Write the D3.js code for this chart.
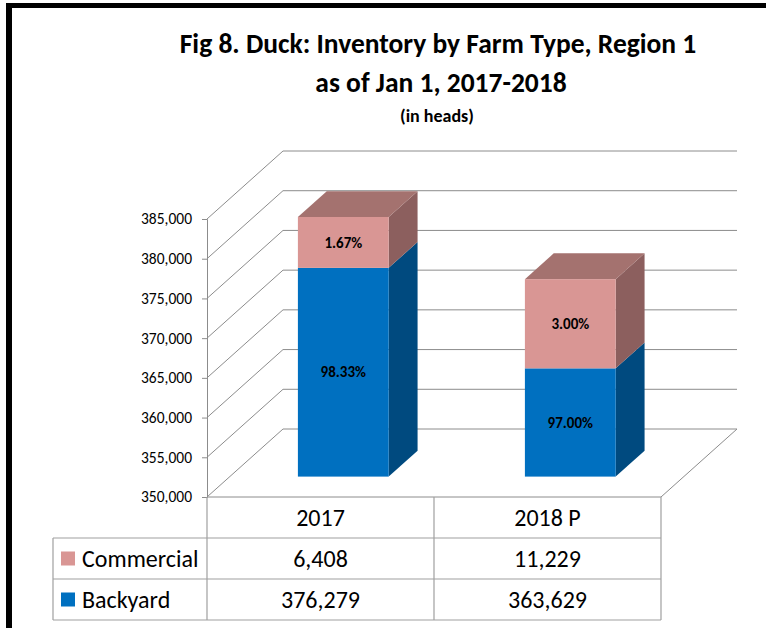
<!DOCTYPE html>
<meta charset="utf-8">
<style>
  body{ margin:0; background:#fff; }
  text{ font-family: Carlito, Calibri, Lato, sans-serif; fill:#000; }
  .title{ font-weight:bold; }
  .grid{ stroke:#8c8c8c; stroke-width:1; fill:none; }
  .cell{ stroke:#a0a0a0; stroke-width:1.2; fill:none; }
  .barlabel{ font-size:15px; font-weight:bold; }
  .tbl{ font-size:24px; }
</style>
<body>
<div id="container"></div>
<script src="https://cdnjs.cloudflare.com/ajax/libs/d3/7.8.5/d3.min.js"></script>
<script>

var years = ['2017', '2018 P'];
var series = ['Backyard', 'Commercial'];
var backyard = [376279, 363629];
var commercial = [6408, 11229];
var backyardPct = ['98.33%', '97.00%'];
var commercialPct = ['1.67%', '3.00%'];
var yTicks = [350000, 355000, 360000, 365000, 370000, 375000, 380000, 385000];

var colors = {
  Backyard:   {front:'#0070c0', side:'#004a7f', top:'#005a9a'},
  Commercial: {front:'#d99694', side:'#8c5f5e', top:'#a4726f'}
};

var W = 766, H = 628;
var svg = d3.select('#container').append('svg').attr('width', W).attr('height', H);

// frame
svg.append('rect').attr('x',6).attr('y',3).attr('width',W).attr('height',5).attr('fill','#000');
svg.append('rect').attr('x',6).attr('y',3).attr('width',6).attr('height',H).attr('fill','#000');

// title
svg.append('text').attr('class','title').attr('x',438).attr('y',53).attr('text-anchor','middle')
  .style('font-size','27.5px').text('Fig 8. Duck: Inventory by Farm Type, Region 1');
svg.append('text').attr('class','title').attr('x',441).attr('y',92).attr('text-anchor','middle')
  .style('font-size','27.5px').text('as of Jan 1, 2017-2018');
svg.append('text').attr('class','title').attr('x',437).attr('y',122).attr('text-anchor','middle')
  .style('font-size','18px').text('(in heads)');

// scales (front plane)
var x = d3.scaleBand().domain(years).range([207, 661]).padding(0);
var y = d3.scaleLinear().domain([350000, 385000]).range([497, 219]);
var depth = {dx:76, dy:-68};
var f1 = 0.3, f2 = 0.68;      // bar depth position (fraction of wall depth)
var barW = x.bandwidth() * 0.4;

// walls / gridlines
var g = svg.append('g');
yTicks.forEach(function(t){
  var y0 = y(t);
  g.append('path').attr('class','grid')
    .attr('d', 'M' + x.range()[0] + ',' + y0 + 'l' + depth.dx + ',' + depth.dy + 'H' + (x.range()[1] + depth.dx));
});
// floor
g.append('path').attr('class','grid')
  .attr('d', 'M' + x.range()[0] + ',' + y(350000) + 'H' + x.range()[1] + 'l' + depth.dx + ',' + depth.dy);

// y axis
var axis = svg.append('g')
  .attr('transform','translate(' + x.range()[0] + ',0)')
  .call(d3.axisLeft(y).tickValues(yTicks).tickSize(5).tickPadding(10).tickFormat(d3.format(',')));
axis.select('.domain').attr('stroke','#8c8c8c');
axis.selectAll('.tick line').attr('stroke','#8c8c8c');
axis.selectAll('.tick text').style('font-size','15.5px').style('font-family','Carlito, Calibri, Lato, sans-serif').attr('fill','#222');

// bars
var stacks = years.map(function(yr, i){
  return [
    {key:'Backyard', y0:350000, y1:backyard[i], label:backyardPct[i]},
    {key:'Commercial', y0:backyard[i], y1:backyard[i] + commercial[i], label:commercialPct[i]}
  ];
});

var bars = svg.append('g');
years.forEach(function(yr, i){
  var cx = x(yr) + x.bandwidth()/2 + depth.dx * f1;
  var x0 = cx - barW/2, x1 = cx + barW/2;
  var off = depth.dy * f1;
  var ddx = depth.dx * (f2 - f1), ddy = depth.dy * (f2 - f1);
  stacks[i].forEach(function(s, k){
    var yt = y(s.y1) + off, yb = y(s.y0) + off;
    var c = colors[s.key];
    // side
    bars.append('path').attr('fill', c.side)
      .attr('d', 'M' + x1 + ',' + yb + 'l' + ddx + ',' + ddy + 'V' + (yt + ddy) + 'l' + (-ddx) + ',' + (-ddy) + 'Z');
    // top
    if (k === stacks[i].length - 1) {
      bars.append('path').attr('fill', c.top)
        .attr('d', 'M' + x0 + ',' + yt + 'l' + ddx + ',' + ddy + 'H' + (x1 + ddx) + 'l' + (-ddx) + ',' + (-ddy) + 'Z');
    }
    // front
    bars.append('rect').attr('x', x0).attr('y', yt).attr('width', barW).attr('height', yb - yt).attr('fill', c.front);
    bars.append('text').attr('class','barlabel').attr('x', cx).attr('y', (yt + yb)/2).attr('dy','0.35em')
      .attr('text-anchor','middle').text(s.label);
  });
});

// data table
var tbl = svg.append('g');
var tLeft = 53, rowH = 41, tTop = 497;
var rows = [
  {name:'Commercial', vals:commercial, color:colors.Commercial.front},
  {name:'Backyard', vals:backyard, color:colors.Backyard.front}
];
tbl.append('path').attr('class','cell')
  .attr('d', 'M' + x.range()[0] + ',' + tTop + 'V' + (tTop + rowH * 3) +
             'M' + x(years[1]) + ',' + tTop + 'V' + (tTop + rowH * 3) +
             'M' + x.range()[1] + ',' + tTop + 'V' + (tTop + rowH * 3) +
             'M' + tLeft + ',' + (tTop + rowH) + 'H' + x.range()[1] +
             'M' + tLeft + ',' + (tTop + rowH * 2) + 'H' + x.range()[1] +
             'M' + tLeft + ',' + (tTop + rowH * 3) + 'H' + x.range()[1] +
             'M' + tLeft + ',' + (tTop + rowH) + 'V' + (tTop + rowH * 3));
years.forEach(function(yr){
  tbl.append('text').attr('class','tbl').attr('x', x(yr) + x.bandwidth()/2).attr('y', tTop + rowH/2)
    .attr('dy','0.35em').attr('text-anchor','middle').text(yr);
});
var fmt = d3.format(',');
rows.forEach(function(r, j){
  var cy = tTop + rowH * (j + 1) + rowH/2;
  tbl.append('rect').attr('x', 61).attr('y', cy - 7).attr('width', 14).attr('height', 14).attr('fill', r.color);
  tbl.append('text').attr('class','tbl').attr('x', 82).attr('y', cy).attr('dy','0.35em').text(r.name);
  years.forEach(function(yr, i){
    tbl.append('text').attr('class','tbl').attr('x', x(yr) + x.bandwidth()/2).attr('y', cy)
      .attr('dy','0.35em').attr('text-anchor','middle').text(fmt(r.vals[i]));
  });
});

</script>
</body>
</html>
